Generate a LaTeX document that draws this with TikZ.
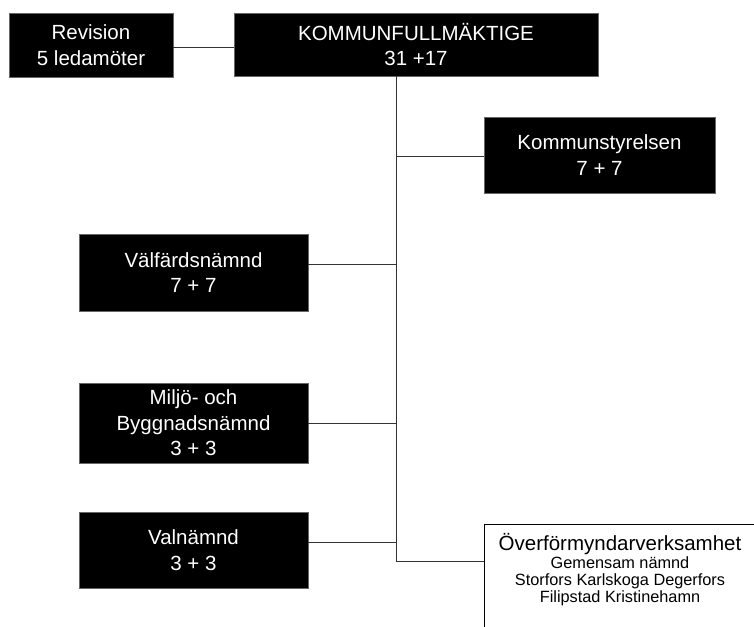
\documentclass[tikz,border=0pt]{standalone}
\usepackage{fontspec}
\setmainfont{Liberation Sans}
\usetikzlibrary{positioning}

\begin{document}
\begin{tikzpicture}[x=1pt,y=-1pt,
    organ/.style={rectangle,fill=black,draw=black!60,line width=0.6pt,text=white,
        align=center,inner sep=0pt,font=\fontsize{20.5}{25.5}\selectfont},
    link/.style={draw=black!80,line width=1pt}]
    \useasboundingbox (0,0) rectangle (754,626);
    \clip (0,0) rectangle (754,626);
    \coordinate (t) at (396,0);
    \coordinate (ov) at (484,561);
    \node at (91,45) [organ,minimum width=164pt,minimum height=64pt] (rev) {Revision\\5 ledamöter};
    \node at (416,44.5) [organ,minimum width=364pt,minimum height=63pt] (kf) {KOMMUNFULLMÄKTIGE\\31 +17};
    \node at (599.5,155) [organ,minimum width=231pt,minimum height=76pt] (ks) {Kommunstyrelsen\\7 + 7};
    \node at (193.5,272.5) [organ,minimum width=229pt,minimum height=77pt] (vf) {Välfärdsnämnd\\7 + 7};
    \node at (193.5,423) [organ,minimum width=229pt,minimum height=80pt] (mb) {Miljö- och\\Byggnadsnämnd\\3 + 3};
    \node at (193.5,550) [organ,minimum width=229pt,minimum height=76pt] (vn) {Valnämnd\\3 + 3};
    \node at (484,524) [anchor=north west,rectangle,draw=black,line width=1pt,fill=white,
        minimum width=340pt,minimum height=130pt] (over) {};
    \node at (620,570) [align=center,inner sep=0pt,font=\fontsize{16.3}{17}\selectfont] (overtext)
        {{\fontsize{20.5}{20}\selectfont Överförmyndarverksamhet}\\[1pt]
         Gemensam nämnd\\
         Storfors Karlskoga Degerfors\\
         Filipstad Kristinehamn};
    \draw[link] (rev.east |- 0,48) -- (kf.west |- 0,48);
    \draw[link] (t |- kf.south) -- (t |- ov) -- (ov);
    \draw[link] (ks.west |- 0,156) -- (t |- 0,156);
    \foreach \n/\y in {vf/264,mb/423,vn/542} {
        \draw[link] (\n.east |- 0,\y) -- (t |- 0,\y);
    }
\end{tikzpicture}
\end{document}
